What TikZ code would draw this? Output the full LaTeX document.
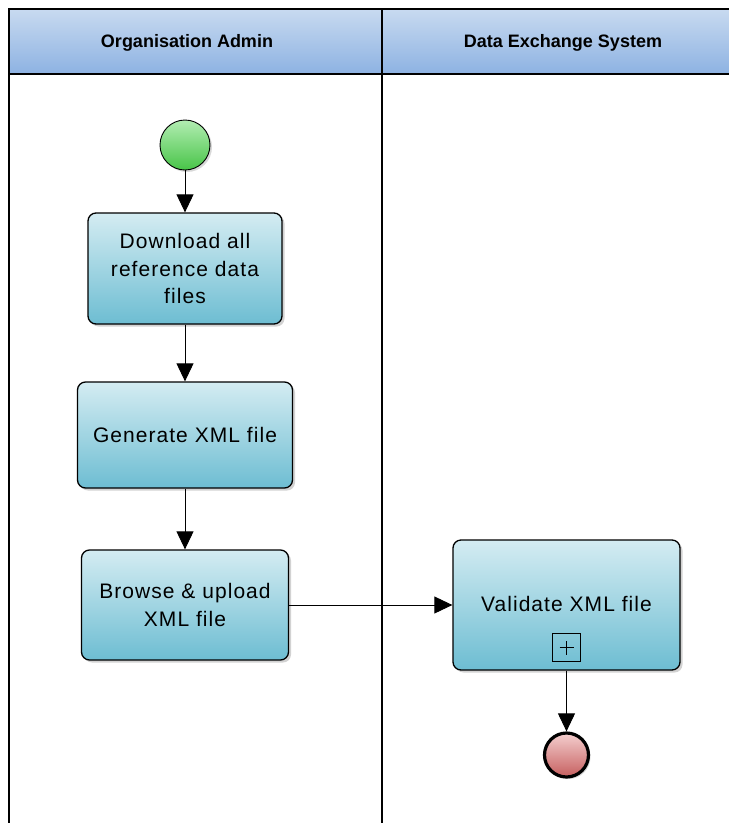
\documentclass[tikz,border=0pt]{standalone}
\usepackage{fontspec}
\setmainfont{Liberation Sans}
\usetikzlibrary{arrows.meta,shadows}
\definecolor{hdrtop}{HTML}{C8DAF0}
\definecolor{hdrbot}{HTML}{8DB2E2}
\definecolor{boxtop}{HTML}{D4ECF2}
\definecolor{boxbot}{HTML}{6DBDD2}
\definecolor{starttop}{HTML}{B2EDB2}
\definecolor{startbot}{HTML}{48C448}
\definecolor{endtop}{HTML}{F4CFCF}
\definecolor{endbot}{HTML}{C65F5F}
\newcommand{\taskfont}{\fontsize{21}{27.5}\selectfont\addfontfeature{LetterSpace=5}}
\tikzset{
  task/.style={draw=black, line width=1.3pt, rounded corners=8pt,
    top color=boxtop, bottom color=boxbot, align=center, inner sep=0pt,
    font=\taskfont,
    drop shadow={shadow xshift=2.5pt, shadow yshift=-2.5pt, fill=black!35}},
  startev/.style={circle, draw=black, line width=0.9pt, minimum size=50pt, inner sep=0pt,
    top color=starttop, bottom color=startbot,
    drop shadow={shadow xshift=2pt, shadow yshift=-2pt, fill=black!30}},
  endev/.style={circle, draw=black, line width=3.2pt, minimum size=44pt, inner sep=0pt,
    top color=endtop, bottom color=endbot,
    drop shadow={shadow xshift=2pt, shadow yshift=-2pt, fill=black!30}},
  lanehdr/.style={font=\fontsize{18}{20}\selectfont\bfseries},
  flow/.style={draw=black, line width=0.9pt, -{Triangle[width=17pt,length=18pt]}},
  marker/.style={draw=black, line width=1.1pt, minimum size=28pt, inner sep=0pt}
}
\begin{document}
\begin{tikzpicture}[x=1pt,y=-1pt]
\useasboundingbox (0,0) rectangle (729,823);
\clip (0,0) rectangle (729,823);
% header band
\shade[top color=hdrtop, bottom color=hdrbot] (9,9) rectangle (740,74);
\draw[line width=1.4pt] (740,9) -- (9,9) -- (9,830);
\draw[line width=2pt] (9,74) -- (740,74);
\draw[line width=1.8pt] (382,9) -- (382,830);
\node[lanehdr] (h1) at (187,43) {Organisation Admin};
\node[lanehdr] (h2) at (563,43) {Data Exchange System};
% events and tasks
\node[startev] (start) at (185,145) {};
\node[task, minimum width=194pt, minimum height=111pt] (b1) at (185,268.5) {Download all\\reference data\\files};
\node[task, minimum width=215pt, minimum height=106pt] (b2) at (185,435) {Generate XML file};
\node[task, minimum width=207pt, minimum height=110pt] (b3) at (185,605) {Browse \& upload\\XML file};
\node[task, minimum width=227pt, minimum height=130pt] (b4) at (566.5,605) {};
\node[font=\taskfont] (b4t) at (566.5,604) {Validate XML file};
\node[marker] (b4m) at (566.5,647.5) {};
\draw[line width=1pt] ([xshift=-7pt]b4m.center) -- ([xshift=7pt]b4m.center)
                      ([yshift=-7pt]b4m.center) -- ([yshift=7pt]b4m.center);
\node[endev] (end) at (566.5,755) {};
% flows
\draw[flow] (start) -- (b1);
\draw[flow] (b1) -- (b2);
\draw[flow] (b2) -- (b3);
\draw[flow] (b3) -- (b4);
\draw[flow] (b4) -- (end);
\end{tikzpicture}
\end{document}
